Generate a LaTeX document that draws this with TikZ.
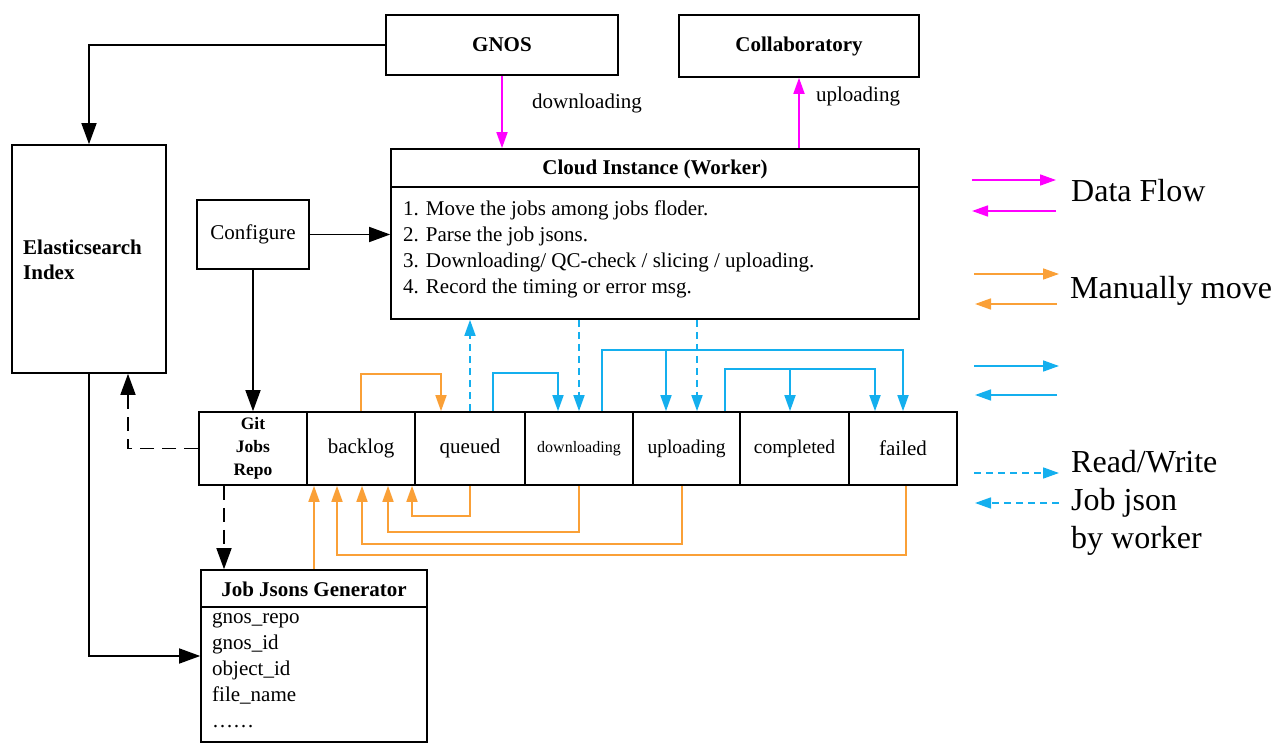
\documentclass[tikz,border=0pt]{standalone}
\usepackage{fontspec}
\setmainfont{Liberation Serif}
\usetikzlibrary{arrows.meta,calc}
\definecolor{mag}{RGB}{255,0,255}
\definecolor{org}{RGB}{250,160,55}
\definecolor{sky}{RGB}{20,175,238}
\begin{document}
\begin{tikzpicture}[x=1pt,y=-1pt,
  box/.style={draw,line width=1.6pt,inner sep=0pt},
  ft/.style={font=\fontsize{21}{25}\selectfont},
  bft/.style={font=\bfseries\fontsize{21}{25}\selectfont},
  blk/.style={line width=1.5pt,-{Triangle[length=21pt,width=15pt]}},
  blkd/.style={blk,dash pattern=on 14pt off 8pt},
  mg/.style={mag,line width=1.7pt,-{Triangle[length=16pt,width=11pt]}},
  og/.style={org,line width=1.7pt,-{Triangle[length=16pt,width=11pt]}},
  bl/.style={sky,line width=1.7pt,-{Triangle[length=16pt,width=11pt]}},
  bld/.style={bl,dash pattern=on 7pt off 5pt},
  lg/.style={font=\fontsize{32}{38}\selectfont,anchor=base west,inner sep=0pt}]
\useasboundingbox (0,0) rectangle (1288,751);

% main boxes
\node[box,bft,minimum width=232,minimum height=60] (gnos) at (502,45) {GNOS};
\node[box,bft,minimum width=240,minimum height=62] (collab) at (799,46) {Collaboratory};
\node[box,minimum width=528,minimum height=170] (cloud) at (655,234) {};
\draw[line width=1.6pt] ([yshift=-39pt]cloud.north west) -- ([yshift=-39pt]cloud.north east);
\node[bft,inner sep=0pt] (cloudt) at (655,169) {Cloud Instance (Worker)};
\node[ft,anchor=base west,inner sep=0pt] (l1) at (403,216) {1. Move the jobs among jobs floder.};
\node[ft,anchor=base west,inner sep=0pt] (l2) at (403,242) {2. Parse the job jsons.};
\node[ft,anchor=base west,inner sep=0pt] (l3) at (403,268) {3. Downloading/ QC-check / slicing / uploading.};
\node[ft,anchor=base west,inner sep=0pt] (l4) at (403,294) {4. Record the timing or error msg.};

\node[box,minimum width=154,minimum height=228] (elastic) at (89,259) {};
\node[bft,anchor=base west,inner sep=0pt] (et1) at (23,255) {Elasticsearch};
\node[bft,anchor=base west,inner sep=0pt] (et2) at (23,280) {Index};

\node[box,ft,minimum width=112,minimum height=69] (configure) at (253,234.5) {Configure};

% git row
\node[box,minimum width=108,minimum height=73,align=center,font=\bfseries\fontsize{17.5}{23}\selectfont] (git) at (253,448.5) {Git\\Jobs\\Repo};
\node[box,ft,minimum width=108,minimum height=73] (backlog) at (361,448.5) {backlog};
\node[box,ft,minimum width=110,minimum height=73] (queued) at (470,448.5) {queued};
\node[box,minimum width=108,minimum height=73,font=\fontsize{16}{20}\selectfont] (downloading) at (579,448.5) {downloading};
\node[box,minimum width=107,minimum height=73,font=\fontsize{19.5}{24}\selectfont] (uploading) at (686.5,448.5) {uploading};
\node[box,minimum width=109,minimum height=73,font=\fontsize{19.5}{24}\selectfont] (completed) at (794.5,448.5) {completed};
\node[box,ft,minimum width=108,minimum height=73] (failed) at (903,448.5) {failed};

% job jsons generator
\node[box,minimum width=226,minimum height=172] (jj) at (314,656) {};
\draw[line width=1.6pt] ([yshift=-38pt]jj.north west) -- ([yshift=-38pt]jj.north east);
\node[bft,inner sep=0pt] (jjt) at (314,589) {Job Jsons Generator};
\node[ft,anchor=base west,inner sep=0pt] (j1) at (212,623) {gnos\_repo};
\node[ft,anchor=base west,inner sep=0pt] (j2) at (212,649) {gnos\_id};
\node[ft,anchor=base west,inner sep=0pt] (j3) at (212,675) {object\_id};
\node[ft,anchor=base west,inner sep=0pt] (j4) at (212,701) {file\_name};
\node[ft,anchor=base west,inner sep=0pt] (j5) at (212,727) {\ldots\ldots};

% labels
\node[ft,inner sep=0pt] (dl) at (587,103) {downloading};
\node[ft,inner sep=0pt] (ul) at (858,96) {uploading};

% black connectors
\draw[blk] (gnos.west) -| (elastic.north);
\draw[blk] (configure.east) -- (configure.east -| cloud.west);
\draw[blk] (configure.south) -- (git.north);
\draw[blkd] (git.west) -| ([xshift=39pt]elastic.south);
\coordinate (gd) at ([xshift=-29pt]git.south);
\draw[blkd] (gd) -- (gd |- jj.north);
\draw[blk] (elastic.south) |- (jj.west);

% magenta
\draw[mg] (gnos.south) -- (gnos.south |- cloud.north);
\draw[mg] (collab.south |- cloud.north) -- (collab.south);

% orange
\draw[og] (backlog.north) -- ++(0,-37) -| ([xshift=-29pt]queued.north);
\draw[og] (queued.south) -- ++(0,30) -| ([xshift=51pt]backlog.south);
\draw[og] (downloading.south) -- ++(0,46) -| ([xshift=27pt]backlog.south);
\draw[og] ([xshift=-4.5pt]uploading.south) -- ++(0,58) -| ([xshift=1pt]backlog.south);
\draw[og] ([xshift=3pt]failed.south) -- ++(0,69) -| ([xshift=-24pt]backlog.south);
\draw[og] (jj.north) -- (jj.north |- backlog.south);

% blue solid
\draw[bl] ([xshift=23pt]queued.north) -- ++(0,-38) -| ([xshift=-21pt]downloading.north);
\draw[bl] ([xshift=23pt]downloading.north) -- ++(0,-61) coordinate (b1) -| (failed.north);
\coordinate (u1) at ([xshift=-20.5pt]uploading.north);
\draw[bl] (u1 |- b1) -- (u1);
\draw[bl] ([xshift=38.5pt]uploading.north) -- ++(0,-42) coordinate (b2) -| ([xshift=-28pt]failed.north);
\coordinate (c1) at ([xshift=-4.5pt]completed.north);
\draw[bl] (c1 |- b2) -- (c1);

% blue dashed
\draw[bld] (queued.north) -- (queued.north |- cloud.south);
\draw[bld] (downloading.north |- cloud.south) -- (downloading.north);
\coordinate (u2) at ([xshift=10.5pt]uploading.north);
\draw[bld] (u2 |- cloud.south) -- (u2);

% legend
\coordinate (m1a) at (972,180); \coordinate (m1b) at (1056,180);
\coordinate (m2a) at (1056,211); \coordinate (m2b) at (972,211);
\draw[mg] (m1a) -- (m1b);
\draw[mg] (m2a) -- (m2b);
\coordinate (o1a) at (974,274); \coordinate (o1b) at (1059,274);
\coordinate (o2a) at (1057,304); \coordinate (o2b) at (975,304);
\draw[og] (o1a) -- (o1b);
\draw[og] (o2a) -- (o2b);
\coordinate (s1a) at (974,366); \coordinate (s1b) at (1059,366);
\coordinate (s2a) at (1057,395); \coordinate (s2b) at (975,395);
\draw[bl] (s1a) -- (s1b);
\draw[bl] (s2a) -- (s2b);
\coordinate (d1a) at (974,473); \coordinate (d1b) at (1059,473);
\coordinate (d2a) at (1059,503); \coordinate (d2b) at (975,503);
\draw[bld] (d1a) -- (d1b);
\draw[bld] (d2a) -- (d2b);
\node[lg] (lg1) at (1071,202) {Data Flow};
\node[lg] (lg2) at (1070,299) {Manually move};
\node[lg] (lg3) at (1071,472) {Read/Write};
\node[lg] (lg4) at (1071,510) {Job json};
\node[lg] (lg5) at (1071,548) {by worker};
\end{tikzpicture}
\end{document}
